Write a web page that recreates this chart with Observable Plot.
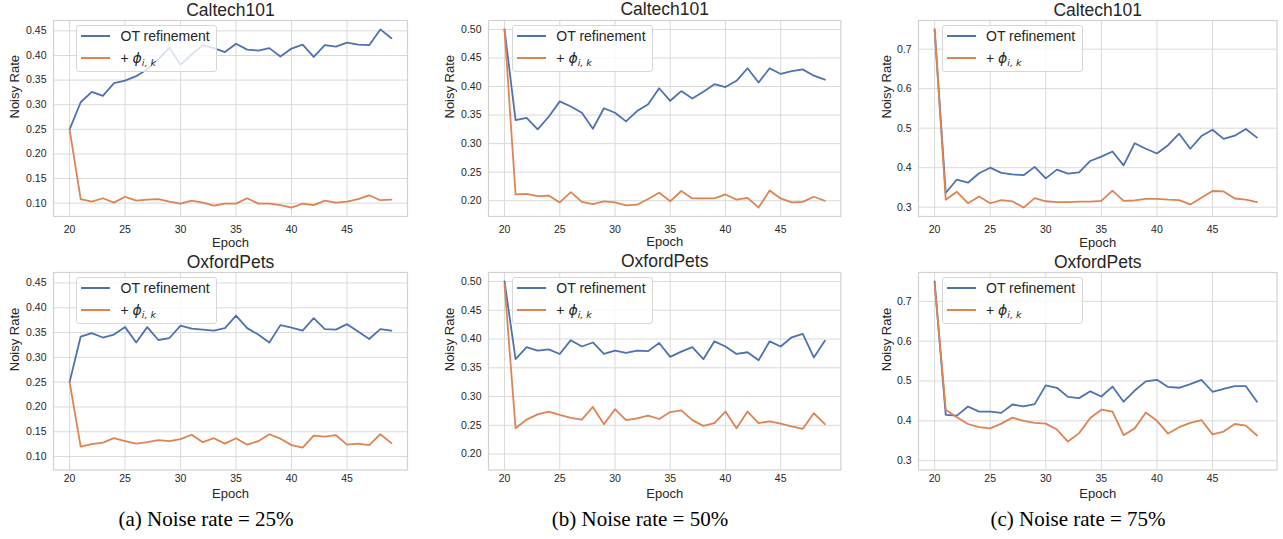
<!DOCTYPE html>
<html><head><meta charset="utf-8">
<script src="https://cdn.jsdelivr.net/npm/d3@7"></script>
<script src="https://cdn.jsdelivr.net/npm/@observablehq/plot@0.6"></script>
<style>
body{margin:0;background:#fff;}
#root{position:relative;width:1283px;height:539px;overflow:hidden;background:#fff;font-family:"Liberation Sans",Arial,sans-serif;}
#root svg{position:absolute;overflow:visible;}
.legend{position:absolute;background:rgba(255,255,255,0.8);border:1px solid #d6d6d6;border-radius:3px;box-sizing:border-box;font-size:14px;color:#262626;width:141px;height:47px;}
.legend .row{position:absolute;left:0;right:0;height:20px;}
.legend .sw{position:absolute;left:4px;top:9px;width:29px;height:0;border-top:2px solid;}
.legend .lab{position:absolute;left:43.5px;top:2px;line-height:16px;white-space:nowrap;}
.legend .phi{font-family:"DejaVu Sans",sans-serif;font-style:italic;font-size:14px;}
.legend sub{font-family:"DejaVu Sans",sans-serif;font-style:italic;font-size:9.5px;vertical-align:-3px;line-height:0;}
.caption{position:absolute;font-family:"Liberation Serif","Times New Roman",serif;font-size:21px;line-height:21px;color:#000;white-space:nowrap;transform:translateX(-50%);}
</style></head><body><div id="root"></div>
<script>
// ---- data ----
const epochs = [20,21,22,23,24,25,26,27,28,29,30,31,32,33,34,35,36,37,38,39,40,41,42,43,44,45,46,47,48,49];
const xTicks = [20,25,30,35,40,45];
const yTicks25 = [0.10,0.15,0.20,0.25,0.30,0.35,0.40,0.45];
const yTicks50 = [0.20,0.25,0.30,0.35,0.40,0.45,0.50];
const yTicks75 = [0.3,0.4,0.5,0.6,0.7];
const datasetTitles = ["Caltech101","OxfordPets"];
const captions = ["(a) Noise rate = 25%","(b) Noise rate = 50%","(c) Noise rate = 75%"];
const seriesNames = ["OT refinement","+ ϕ i,k"];
const seriesColors = ["#4c72b0","#dd8452"];

const caltech25_ot  = [0.250,0.305,0.326,0.318,0.344,0.349,0.358,0.372,0.392,0.416,0.381,0.402,0.421,0.415,0.407,0.424,0.412,0.410,0.415,0.398,0.414,0.422,0.397,0.421,0.418,0.426,0.422,0.421,0.453,0.435];
const caltech25_phi = [0.250,0.108,0.103,0.110,0.101,0.113,0.105,0.107,0.108,0.103,0.099,0.105,0.101,0.095,0.099,0.099,0.110,0.099,0.099,0.096,0.091,0.099,0.096,0.105,0.101,0.103,0.108,0.116,0.106,0.107];
const caltech50_ot  = [0.500,0.341,0.345,0.325,0.347,0.374,0.365,0.354,0.326,0.362,0.354,0.339,0.357,0.369,0.397,0.375,0.392,0.379,0.391,0.404,0.399,0.410,0.432,0.407,0.432,0.422,0.427,0.430,0.419,0.412];
const caltech50_phi = [0.500,0.211,0.212,0.208,0.209,0.197,0.215,0.198,0.194,0.199,0.197,0.192,0.193,0.203,0.214,0.199,0.217,0.204,0.204,0.204,0.211,0.202,0.205,0.188,0.218,0.204,0.197,0.198,0.207,0.200];
const caltech75_ot  = [0.750,0.336,0.370,0.362,0.386,0.400,0.387,0.383,0.381,0.402,0.373,0.395,0.385,0.388,0.417,0.428,0.441,0.406,0.462,0.448,0.436,0.457,0.486,0.448,0.480,0.496,0.473,0.481,0.498,0.476];
const caltech75_phi = [0.750,0.319,0.339,0.310,0.327,0.310,0.318,0.315,0.299,0.323,0.315,0.313,0.313,0.314,0.314,0.316,0.342,0.316,0.317,0.321,0.321,0.319,0.318,0.307,0.324,0.341,0.340,0.322,0.319,0.313];
const oxford25_ot   = [0.250,0.342,0.349,0.340,0.346,0.361,0.330,0.361,0.335,0.339,0.364,0.358,0.356,0.354,0.359,0.384,0.359,0.346,0.330,0.365,0.360,0.354,0.379,0.357,0.356,0.367,0.352,0.337,0.357,0.354];
const oxford25_phi  = [0.250,0.120,0.125,0.128,0.137,0.131,0.126,0.129,0.133,0.131,0.135,0.144,0.129,0.137,0.126,0.137,0.124,0.131,0.145,0.136,0.123,0.118,0.142,0.140,0.143,0.124,0.126,0.123,0.145,0.127];
const oxford50_ot   = [0.500,0.365,0.386,0.380,0.382,0.374,0.398,0.387,0.394,0.374,0.380,0.376,0.380,0.379,0.393,0.369,0.378,0.386,0.365,0.396,0.387,0.374,0.377,0.363,0.396,0.387,0.403,0.409,0.368,0.397];
const oxford50_phi  = [0.495,0.245,0.260,0.269,0.274,0.268,0.263,0.260,0.282,0.252,0.278,0.259,0.262,0.267,0.261,0.273,0.276,0.259,0.249,0.254,0.274,0.245,0.274,0.254,0.257,0.253,0.248,0.244,0.271,0.252];
const oxford75_ot   = [0.750,0.415,0.413,0.436,0.423,0.423,0.420,0.441,0.436,0.442,0.489,0.483,0.460,0.457,0.474,0.461,0.486,0.448,0.476,0.499,0.503,0.485,0.483,0.492,0.503,0.473,0.480,0.487,0.487,0.448];
const oxford75_phi  = [0.745,0.428,0.409,0.392,0.384,0.381,0.393,0.408,0.400,0.395,0.393,0.378,0.348,0.369,0.407,0.428,0.423,0.364,0.381,0.421,0.400,0.368,0.384,0.395,0.402,0.366,0.373,0.392,0.388,0.363];

// ---- layout ----
const root = document.getElementById("root");
const cols = [
  {L:52.5, R:406.5, ticks:yTicks25, fmt:d3.format(".2f"), xDomain:[18.55,50.45], ylab:43.5, cap:206,
   rows:[[caltech25_ot,caltech25_phi],[oxford25_ot,oxford25_phi]]},
  {L:488.3, R:840.7, ticks:yTicks50, fmt:d3.format(".2f"), xDomain:[18.55,50.45], ylab:43.3, cap:640,
   rows:[[caltech50_ot,caltech50_phi],[oxford50_ot,oxford50_phi]]},
  {L:918, R:1276.5, ticks:yTicks75, fmt:d3.format(".1f"), xDomain:[18.55,50.8], ylab:37, cap:1078,
   rows:[[caltech75_ot,caltech75_phi],[oxford75_ot,oxford75_phi]]}
];
const rowsPos = [{T:20, B:216, tickPad:9.5, xlab:30}, {T:272, B:469.5, tickPad:5, xlab:28}];
const ml = 56, mt = 20, mr = 6, mb = 34;

function yDomainOf(arrs) {
  const all = arrs.flat();
  const [lo, hi] = d3.extent(all);
  const pad = (hi - lo) * 0.05;
  return [lo - pad, hi + pad];
}

cols.forEach((c, ci) => {
  const yDomain = yDomainOf(c.rows.flat());
  c.rows.forEach(([ot, phi], ri) => {
    const {T, B, tickPad, xlab} = rowsPos[ri];
    const data = epochs.map((e, i) => ({epoch: e, ot: ot[i], phi: phi[i]}));
    const svg = Plot.plot({
      width: (c.R - c.L) + ml + mr,
      height: (B - T) + mt + mb,
      marginLeft: ml, marginTop: mt, marginRight: mr, marginBottom: mb,
      style: {fontFamily: '"Liberation Sans", Arial, sans-serif', fontSize: "10.5px", color: "#262626", background: "transparent", overflow: "visible"},
      x: {domain: c.xDomain},
      y: {domain: yDomain},
      marks: [
        Plot.gridX(xTicks, {stroke: "#dadada", strokeOpacity: 1, strokeWidth: 1}),
        Plot.gridY(c.ticks, {stroke: "#dadada", strokeOpacity: 1, strokeWidth: 1}),
        Plot.frame({stroke: "#d2d2d2", strokeWidth: 1.2}),
        Plot.axisX(xTicks, {tickSize: 0, tickPadding: tickPad, label: null, fill: "#262626"}),
        Plot.axisY(c.ticks, {tickSize: 0, tickPadding: 7, label: null, tickFormat: c.fmt, fill: "#262626"}),
        Plot.line(data, {x: "epoch", y: "ot", stroke: seriesColors[0], strokeWidth: 1.8}),
        Plot.line(data, {x: "epoch", y: "phi", stroke: seriesColors[1], strokeWidth: 1.8}),
        Plot.text([datasetTitles[ri]], {text: d => d, frameAnchor: "top", dy: -5, lineAnchor: "bottom", fontSize: 17.5, fill: "#262626"}),
        Plot.text(["Epoch"], {text: d => d, frameAnchor: "bottom", dy: xlab, lineAnchor: "bottom", fontSize: 13, fill: "#262626"}),
        Plot.text(["Noisy Rate"], {text: d => d, frameAnchor: "left", dx: -c.ylab, rotate: -90, lineAnchor: "top", fontSize: 13, fill: "#262626"})
      ]
    });
    svg.style.left = (c.L - ml) + "px";
    svg.style.top = (T - mt) + "px";
    root.appendChild(svg);

    // legend (matplotlib-style box in the upper left of the axes)
    const lg = document.createElement("div");
    lg.className = "legend";
    lg.style.left = (c.L + 23.5) + "px";
    lg.style.top = (T + 5) + "px";
    const r1 = document.createElement("div");
    r1.className = "row"; r1.style.top = "0px";
    r1.innerHTML = `<span class="sw" style="border-color:${seriesColors[0]}"></span><span class="lab">${seriesNames[0]}</span>`;
    const r2 = document.createElement("div");
    r2.className = "row"; r2.style.top = "21.7px";
    const parts = seriesNames[1].split(" ");
    r2.innerHTML = `<span class="sw" style="border-color:${seriesColors[1]}"></span><span class="lab">${parts[0]} <span class="phi">${parts[1]}</span><sub>${parts[2].replace(",", ", ")}</sub></span>`;
    lg.appendChild(r1); lg.appendChild(r2);
    root.appendChild(lg);
  });
  const cap = document.createElement("div");
  cap.className = "caption";
  cap.textContent = captions[ci];
  cap.style.left = c.cap + "px";
  cap.style.top = "508.5px";
  root.appendChild(cap);
});
</script></body></html>
